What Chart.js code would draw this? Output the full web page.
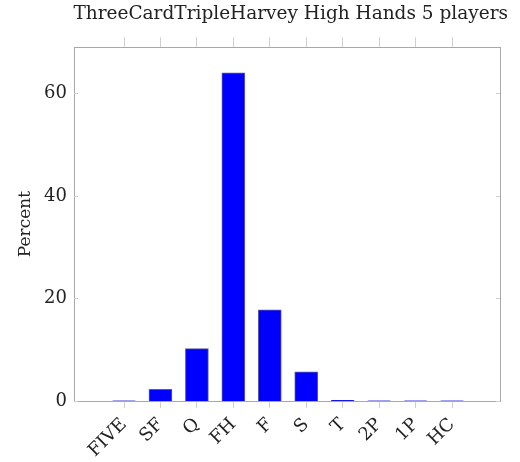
<!DOCTYPE html>
<html>
<head>
<meta charset="utf-8">
<script src="https://cdn.jsdelivr.net/npm/chart.js@4"></script>
<style>
  body { margin: 0; background: #fff; }
  #wrap { width: 520px; height: 462px; }
</style>
</head>
<body>
<div id="wrap"><canvas id="chart"></canvas></div>
<script>
const hands = ["FIVE", "SF", "Q", "FH", "F", "S", "T", "2P", "1P", "HC"];
const percent = [0.02, 2.3, 10.2, 64.0, 17.8, 5.7, 0.15, 0.03, 0.02, 0.02];
const yTicks = [0, 20, 40, 60];

const axisColor = "#a8a8a8";
const textColor = "#222";
const serif = "'DejaVu Serif', 'Liberation Serif', serif";

// small inward ticks on the left and right y axes
const innerTicks = {
  id: "innerTicks",
  afterDraw(chart) {
    const ctx = chart.ctx;
    const y = chart.scales.y;
    const area = chart.chartArea;
    ctx.save();
    ctx.strokeStyle = "#d0d0d0";
    ctx.lineWidth = 1;
    yTicks.forEach((v) => {
      const py = Math.round(y.getPixelForValue(v)) + 0.5;
      ctx.beginPath();
      ctx.moveTo(area.left, py);
      ctx.lineTo(area.left + 4, py);
      ctx.moveTo(area.right, py);
      ctx.lineTo(area.right - 4, py);
      ctx.stroke();
    });
    ctx.restore();
  },
};

const xRange = { min: -1.372, max: 10.317 };
const setTicks = (scale) => {
  scale.ticks = hands.map((h, i) => ({ value: i }));
};

new Chart(document.getElementById("chart"), {
  type: "bar",
  data: {
    datasets: [
      {
        data: percent.map((v, i) => ({ x: i, y: v })),
        backgroundColor: "#0000ff",
        borderColor: "#5a5aa0",
        borderWidth: 1,
        barThickness: 23,
      },
    ],
  },
  options: {
    responsive: true,
    maintainAspectRatio: false,
    animation: false,
    layout: { padding: { right: 12 } },
    plugins: {
      legend: { display: false },
      tooltip: { enabled: false },
      title: {
        display: true,
        text: "ThreeCardTripleHarvey High Hands 5 players",
        color: textColor,
        font: { family: serif, size: 18.5, weight: "normal" },
        padding: { top: 3, bottom: 0 },
        align: "end",
      },
    },
    scales: {
      x: {
        type: "linear",
        position: "bottom",
        offset: false,
        min: xRange.min,
        max: xRange.max,
        afterBuildTicks: setTicks,
        afterFit: (s) => { s.height = 61; },
        border: { color: axisColor },
        grid: { drawOnChartArea: false, offset: false, tickLength: 7, color: "#d0d0d0" },
        ticks: {
          minRotation: 45,
          maxRotation: 45,
          padding: 6,
          color: textColor,
          font: { family: serif, size: 18 },
          callback: (v) => hands[v],
        },
      },
      x2: {
        type: "linear",
        position: "top",
        offset: false,
        min: xRange.min,
        max: xRange.max,
        afterBuildTicks: setTicks,
        afterFit: (s) => { s.height = 22; },
        border: { color: axisColor },
        grid: { drawOnChartArea: false, offset: false, tickLength: 10, color: "#d0d0d0" },
        ticks: { display: true, callback: () => "" },
      },
      y: {
        position: "left",
        min: 0,
        max: 69,
        afterBuildTicks: (s) => { s.ticks = yTicks.map((v) => ({ value: v })); },
        afterFit: (s) => { s.width = 74; },
        border: { color: axisColor },
        grid: { display: false },
        ticks: {
          padding: -1,
          color: textColor,
          font: { family: serif, size: 18 },
        },
        title: {
          display: true,
          text: "Percent",
          color: textColor,
          font: { family: serif, size: 17 },
          padding: { top: 15, bottom: 0 },
        },
      },
      y2: {
        position: "right",
        min: 0,
        max: 69,
        afterFit: (s) => { s.width = 8; },
        border: { color: axisColor },
        grid: { display: false },
        ticks: { display: false },
      },
    },
  },
  plugins: [innerTicks],
});
</script>
</body>
</html>
